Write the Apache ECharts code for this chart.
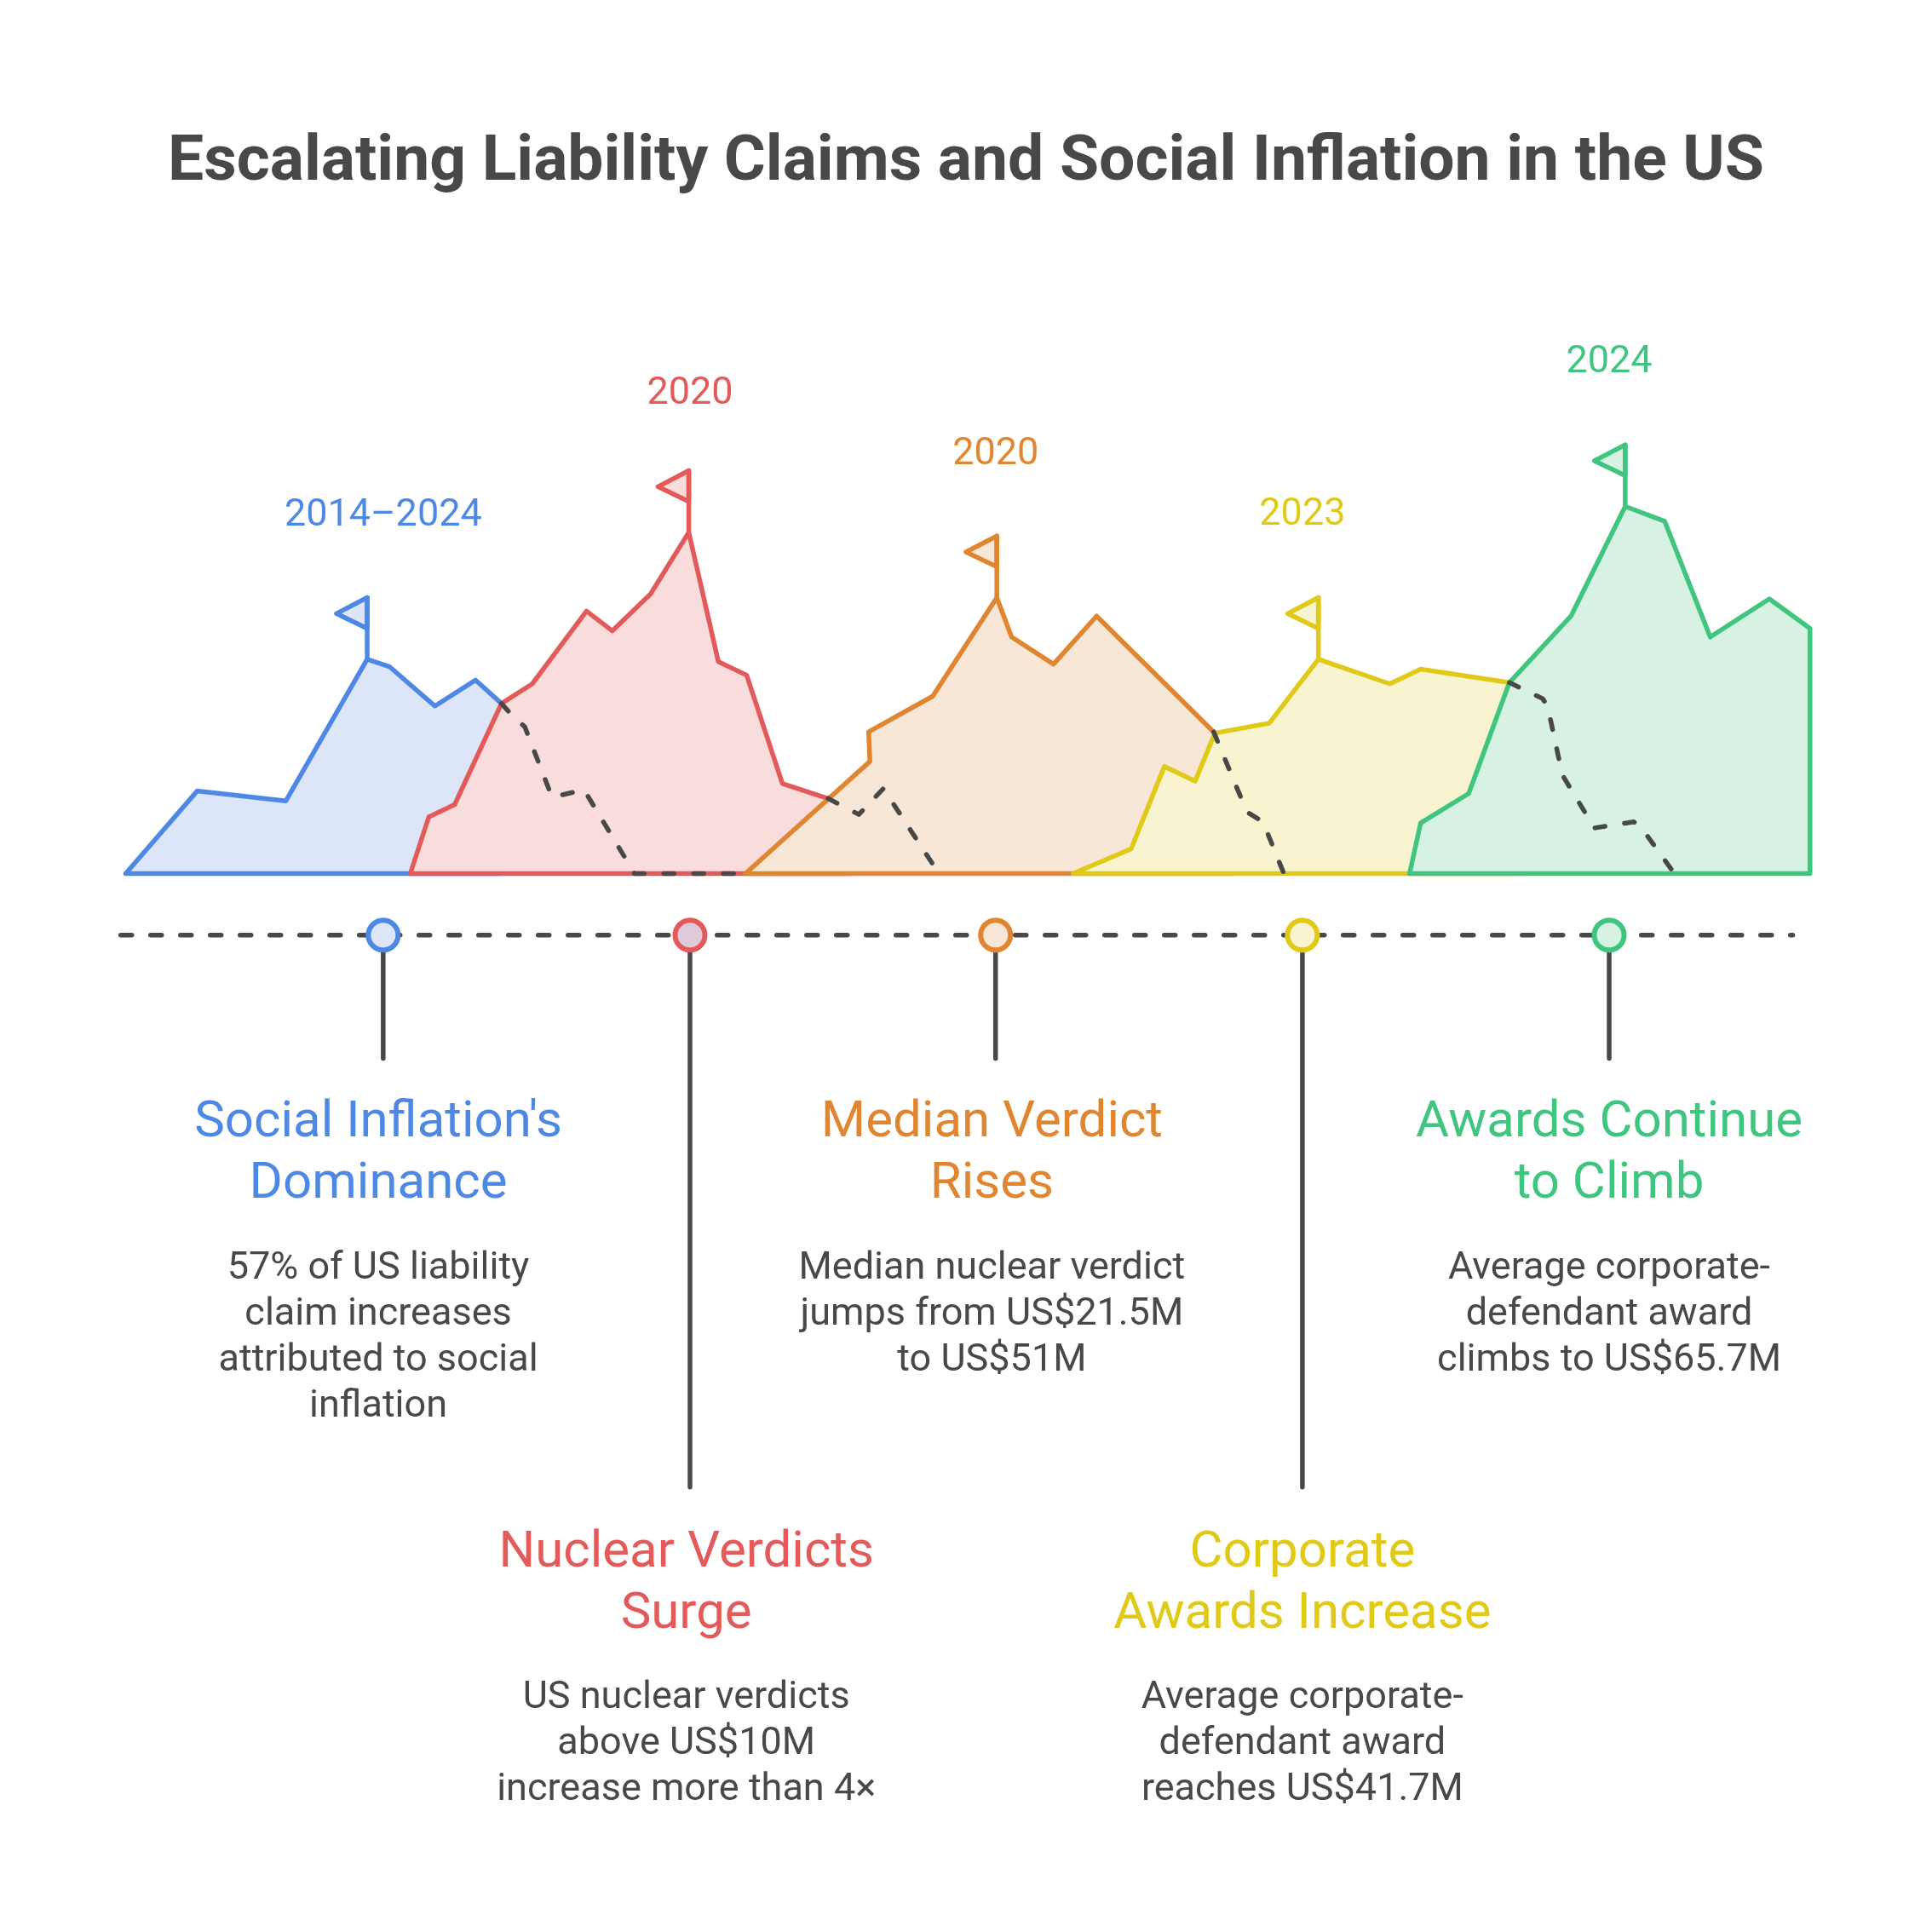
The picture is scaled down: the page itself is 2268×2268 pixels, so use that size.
<!DOCTYPE html>
<html>
<head>
<meta charset="utf-8">
<title>Escalating Liability Claims and Social Inflation in the US</title>
<script src="https://cdn.jsdelivr.net/npm/echarts@6.0.0/dist/echarts.min.js"></script>
<style>
    html, body { margin: 0; padding: 0; background: #fff; }
    #chart { width: 2268px; height: 2268px; }
</style>
</head>
<body>
<div id="chart"></div>
<script>
// x runs 0..1568 across the page, y is height above the mountain baseline
const colors = ['#4e88e5', '#e35a5a', '#e08530', '#e0c917', '#40c580'];
const fills = ['#dce6f8', '#f9dcdc', '#f8e6d6', '#f8f4cf', '#d7f1e3'];
const dotFills = ['#dce6f8', '#dfcad9', '#f8e6d6', '#f8f4cf', '#d7f1e3'];

const blueHill = [[102, 0], [160, 67], [232, 59], [298, 174], [316, 168], [353, 136], [386, 157], [407, 138], [407, 0], [102, 0]];
const redHill = [[333, 0], [348, 46], [369, 56], [407, 138], [432, 154], [476, 213], [497, 197], [528, 227], [559, 277], [583, 172], [606, 161], [635, 73], [672, 61], [690, 52], [690, 0], [333, 0]];
const orangeHill = [[605, 0], [706, 91], [705, 115], [757, 144], [809, 224], [821, 192], [855, 170], [890, 209], [985, 115], [1000, 100], [1000, 0], [605, 0]];
const yellowHill = [[871, 0], [918, 20], [945, 87], [970, 75], [986, 114], [1030, 122], [1070, 174], [1128, 154], [1153, 166], [1225, 155], [1235, 150], [1235, 0], [871, 0]];
const greenHill = [[1144, 0], [1153, 41], [1192, 65], [1225, 155], [1275, 209], [1319, 298], [1351, 286], [1388, 192], [1436, 223], [1469, 199], [1469, 0], [1144, 0]];
const hills = [blueHill, redHill, orangeHill, yellowHill, greenHill];

const trails = [
    [[407, 138], [416, 128], [426, 119], [448, 62], [474, 68], [515, 0], [605, 0]],
    [[672, 61], [697, 48], [717, 69], [762, 0]],
    [[985, 115], [1012, 50], [1025, 42], [1042, 0]],
    [[1225, 155], [1252, 142], [1256, 136], [1268, 80], [1294, 37], [1326, 42], [1333, 36], [1359, 0]]
];

const flags = [[298, 174], [559, 277], [809, 224], [1070, 174], [1319, 298]];

const markX = [311, 560, 808, 1057, 1306];
const dotH = -50;
const stemEnd = [-150, -498, -150, -498, -150];
const timeline = [[98, -50], [1455, -50]];

const years = ['2014–2024', '2020', '2020', '2023', '2024'];
const yearH = [290, 389, 340, 291, 415];

const headings = [
    "Social Inflation's\nDominance",
    'Nuclear Verdicts\nSurge',
    'Median Verdict\nRises',
    'Corporate\nAwards Increase',
    'Awards Continue\nto Climb'
];
const notes = [
    '57% of US liability\nclaim increases\nattributed to social\ninflation',
    'US nuclear verdicts\nabove US$10M\nincrease more than 4×',
    'Median nuclear verdict\njumps from US$21.5M\nto US$51M',
    'Average corporate-\ndefendant award\nreaches US$41.7M',
    'Average corporate-\ndefendant award\nclimbs to US$65.7M'
];
const textX = [307, 557, 805, 1057, 1306];
const headTopH = [-178, -527, -178, -527, -178];
const noteTopH = [-302, -651, -302, -651, -302];

const title = 'Escalating Liability Claims and Social Inflation in the US';

// ----------------------------------------------------
let chart = echarts.init(document.getElementById('chart'));
let series = [];
const LW = 5.5;

hills.forEach(function (pts, i) {
    series.push({
        type: 'line',
        data: pts,
        symbol: 'none',
        silent: true,
        z: 2 + i,
        lineStyle: { color: colors[i], width: LW, join: 'round', cap: 'round' },
        areaStyle: { color: fills[i], opacity: 1, origin: 0 }
    });
});

trails.forEach(function (pts) {
    series.push({
        type: 'line',
        data: pts,
        symbol: 'none',
        silent: true,
        z: 10,
        lineStyle: { color: '#484848', width: LW, type: [12, 23], cap: 'round', join: 'round' }
    });
});

series.push({
    type: 'custom',
    data: flags,
    silent: true,
    z: 12,
    renderItem: function (params, api) {
        let i = params.dataIndex;
        let x = api.value(0), h = api.value(1);
        let base = api.coord([x, h]);
        let top = api.coord([x, h + 50]);
        let tip = api.coord([x - 25, h + 37]);
        let low = api.coord([x, h + 25]);
        return {
            type: 'group',
            children: [
                {
                    type: 'polygon',
                    shape: { points: [top, tip, low] },
                    style: { fill: fills[i], stroke: colors[i], lineWidth: LW, lineJoin: 'round' }
                },
                {
                    type: 'line',
                    shape: { x1: base[0], y1: base[1], x2: top[0], y2: top[1] },
                    style: { stroke: colors[i], lineWidth: LW, lineCap: 'round' }
                }
            ]
        };
    }
});

series.push({
    type: 'line',
    data: timeline,
    symbol: 'none',
    silent: true,
    z: 10,
    lineStyle: { color: '#484848', width: LW, type: [13, 22], cap: 'round' }
});

series.push({
    type: 'custom',
    data: markX.map(function (x, i) { return [x, stemEnd[i]]; }),
    silent: true,
    z: 11,
    renderItem: function (params, api) {
        let a = api.coord([api.value(0), dotH]);
        let b = api.coord([api.value(0), api.value(1)]);
        return {
            type: 'line',
            shape: { x1: a[0], y1: a[1], x2: b[0], y2: b[1] },
            style: { stroke: '#484848', lineWidth: LW, lineCap: 'round' }
        };
    }
});

series.push({
    type: 'scatter',
    silent: true,
    z: 13,
    symbolSize: 35,
    data: markX.map(function (x, i) {
        return {
            value: [x, dotH],
            itemStyle: { color: dotFills[i], borderColor: colors[i], borderWidth: 6, opacity: 1 }
        };
    })
});

let option = {
    animation: false,
    backgroundColor: '#ffffff',
    grid: { left: 0, right: 0, top: 0, bottom: 0 },
    xAxis: { type: 'value', min: 0, max: 1568, show: false },
    yAxis: { type: 'value', min: -859, max: 709, show: false },
    series: series
};
chart.setOption(option);

// ----------------------------------------------------
const toPx = function (x, h) { return chart.convertToPixel({ gridIndex: 0 }, [x, h]); };
let graphics = [];
let tp = toPx(784, 576);
graphics.push({
    type: 'text', x: tp[0], y: tp[1], silent: true,
    style: {
        text: title, fill: '#484848', fontFamily: 'Roboto', fontWeight: 'bold', fontSize: 75,
        align: 'center', verticalAlign: 'middle'
    }
});
markX.forEach(function (x, i) {
    let p = toPx(x, yearH[i]);
    graphics.push({
        type: 'text', x: p[0], y: p[1], silent: true,
        style: {
            text: years[i], fill: colors[i], fontFamily: 'Roboto', fontSize: 45,
            align: 'center', verticalAlign: 'middle'
        }
    });
    let q = toPx(textX[i], headTopH[i]);
    graphics.push({
        type: 'text', x: q[0], y: q[1], silent: true,
        style: {
            text: headings[i], fill: colors[i], fontFamily: 'Roboto', fontSize: 60, lineHeight: 72,
            align: 'center', verticalAlign: 'top'
        }
    });
    let r = toPx(textX[i], noteTopH[i]);
    graphics.push({
        type: 'text', x: r[0], y: r[1], silent: true,
        style: {
            text: notes[i], fill: '#484848', fontFamily: 'Roboto', fontSize: 45, lineHeight: 54,
            align: 'center', verticalAlign: 'top'
        }
    });
});
chart.setOption({ graphic: graphics });
</script>
</body>
</html>
